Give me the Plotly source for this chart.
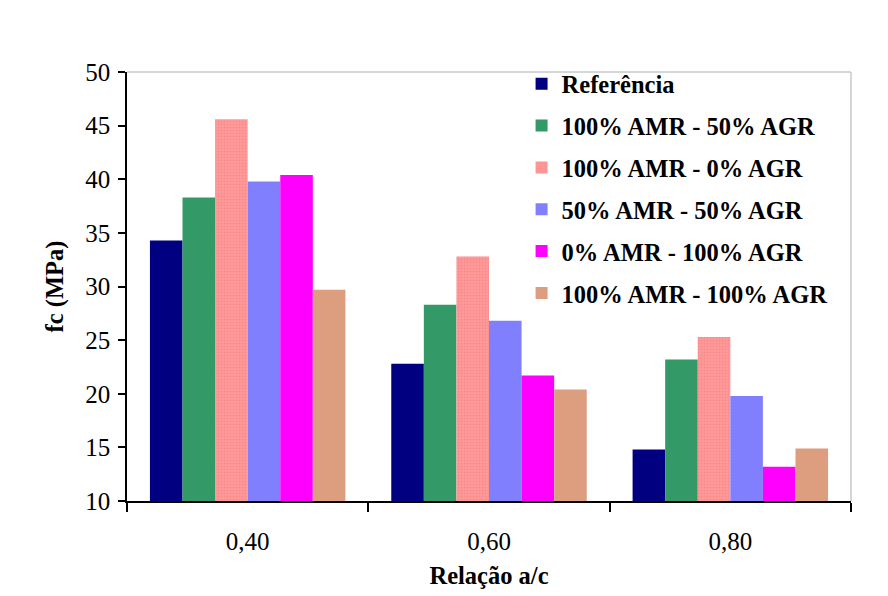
import plotly.graph_objects as go

categories = ["0,40", "0,60", "0,80"]
series_names = ["Referência", "100% AMR - 50% AGR", "100% AMR - 0% AGR",
                "50% AMR - 50% AGR", "0% AMR - 100% AGR", "100% AMR - 100% AGR"]
referencia = [34.3, 22.8, 14.8]
amr100_agr50 = [38.3, 28.3, 23.2]
amr100_agr0 = [45.6, 32.8, 25.3]
amr50_agr50 = [39.8, 26.8, 19.8]
amr0_agr100 = [40.4, 21.7, 13.2]
amr100_agr100 = [29.7, 20.4, 14.9]
y_ticks = [10, 15, 20, 25, 30, 35, 40, 45, 50]

values = [referencia, amr100_agr50, amr100_agr0, amr50_agr50, amr0_agr100, amr100_agr100]
colors = ["#000080", "#339966", "#FF9999", "#8080FF", "#FF00FF", "#DC9E7E"]

fig = go.Figure()
for i, (name, vals, col) in enumerate(zip(series_names, values, colors)):
    marker = dict(color=col, line=dict(width=0))
    if i == 2:
        marker["pattern"] = dict(shape=".", fgcolor="#F07C7C", bgcolor="#FF9999",
                                 size=3, solidity=0.35)
    fig.add_trace(go.Bar(x=categories, y=[v - 10 for v in vals], base=10,
                         name=name, marker=marker, legendgroup=str(i),
                         hovertext=[str(v) for v in vals]))

font_family = "Liberation Serif"
fig.update_layout(
    width=888, height=596,
    margin=dict(l=127, r=37, t=72, b=95),
    paper_bgcolor="white", plot_bgcolor="white",
    barmode="group", bargap=0.19, bargroupgap=0,
    font=dict(family=font_family, size=25, color="black"),
    legend=dict(x=0.545, y=1.025, xanchor="left", yanchor="top",
                font=dict(family=font_family, size=24.5, color="black", weight="bold"),
                tracegroupgap=7, bgcolor="rgba(0,0,0,0)", itemwidth=30),
    xaxis=dict(
        type="category", tickson="boundaries", ticks="outside", ticklen=9,
        tickwidth=1.5, tickcolor="black", showline=True, linecolor="black",
        linewidth=1.5, showgrid=False, ticklabelstandoff=17,
        tickfont=dict(size=25),
        title=dict(text="<b>Relação a/c</b>", font=dict(size=24.5), standoff=13),
    ),
    yaxis=dict(
        range=[10, 50], tickvals=y_ticks, ticks="outside", ticklen=7,
        tickwidth=1.5, tickcolor="black", showline=True, linecolor="black",
        linewidth=1.5, showgrid=False, zeroline=False, ticklabelstandoff=3,
        tickfont=dict(size=25),
        title=dict(text="<b>fc (MPa)</b>", font=dict(size=24.5), standoff=15),
    ),
    shapes=[
        dict(type="line", xref="paper", yref="paper", x0=0, x1=1, y0=1, y1=1,
             line=dict(color="#C8C8C8", width=1.5)),
        dict(type="line", xref="paper", yref="paper", x0=1, x1=1, y0=0, y1=1,
             line=dict(color="#C8C8C8", width=1.5)),
    ],
)

fig.write_html("out.html")
